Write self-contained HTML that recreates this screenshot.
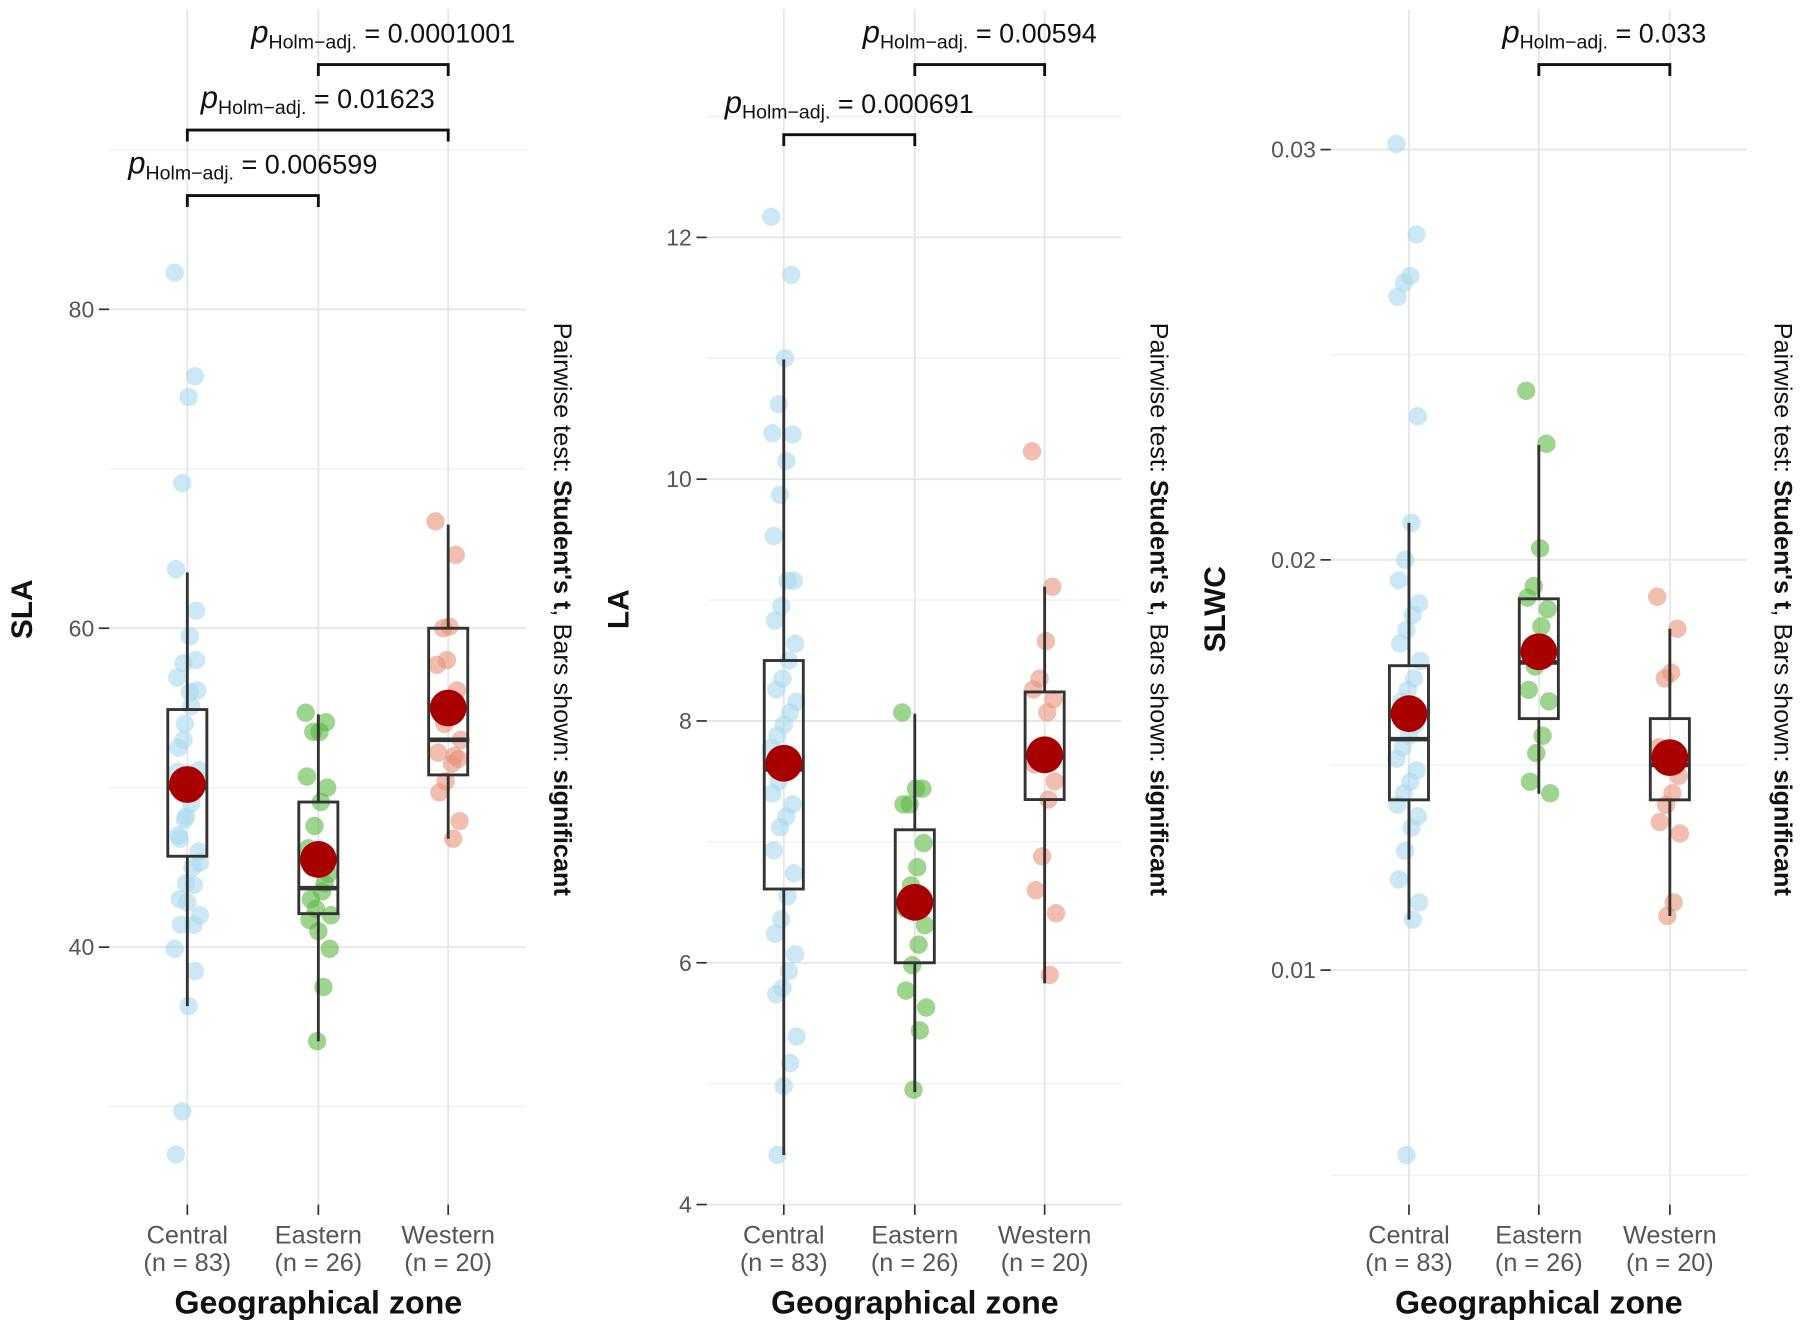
<!DOCTYPE html>
<html><head><meta charset="utf-8"><style>
html,body{margin:0;padding:0;background:#fff}
svg{display:block;font-family:"Liberation Sans",sans-serif}
</style></head><body>
<svg id="chart" width="1802" height="1330" viewBox="0 0 1568 1157" xmlns="http://www.w3.org/2000/svg"></svg>
<script>
const categories=["Central","Eastern","Western"];
const counts=[83,26,20];
const slaCentral=[82.3,75.8,74.5,69.1,63.7,61.1,59.5,57.8,56.9,56.1,55.1,54.0,52.5,51.1,49.7,48.2,46.8,45.3,43.9,42.8,41.4,39.9,38.5,36.3,29.7,27.0,58,56,53,51,50,49,48,47,46,45,44,43,42,41.4];
const slaEastern=[54.7,54.1,53.5,53.5,50.7,50,49.1,47.6,46.2,44.6,43.5,42.4,41.7,39.9,37.5,34.1,43,42,44,41,45];
const slaWestern=[66.7,64.6,60.1,60,57.7,56.1,54.7,54,52.2,51.8,51.5,50.4,49.7,47.9,46.8,58,55,53,52];
const slaBoxes=[[36.3,45.7,50.0,54.9,63.5],[34.1,42.1,43.7,49.1,54.6],[46.8,50.8,53.0,60.0,66.5]];
const slaMeans=[50.2,45.5,55.0];
const laCentral=[12.17,11.69,11.0,10.62,10.38,10.37,10.15,9.87,9.53,9.16,9.16,8.95,8.83,8.64,8.50,8.35,8.26,8.16,8.07,7.97,7.88,7.78,7.69,7.59,7.50,7.40,7.31,7.21,7.12,6.93,6.74,6.55,6.36,6.24,6.07,5.93,5.79,5.74,5.39,5.17,4.98,4.41];
const laEastern=[8.07,7.44,7.44,7.31,7.31,6.99,6.79,6.64,6.45,6.31,6.15,5.98,5.77,5.63,5.44,4.95];
const laWestern=[10.23,9.11,8.66,8.35,8.26,8.18,8.07,7.74,7.64,7.50,7.35,6.88,6.60,6.41,5.90];
const laBoxes=[[4.41,6.61,7.6,8.50,10.99],[4.93,6.0,6.5,7.10,8.06],[5.83,7.35,7.7,8.24,9.11]];
const laMeans=[7.65,6.5,7.72];
const slwcCentral=[0.03014,0.02793,0.02692,0.02675,0.02641,0.0235,0.0209,0.0200,0.0195,0.01894,0.01866,0.01829,0.01796,0.01754,0.01711,0.01683,0.01655,0.01627,0.01599,0.01571,0.01543,0.01515,0.01487,0.01459,0.01431,0.01403,0.01375,0.01347,0.01291,0.01221,0.01165,0.01123,0.00549];
const slwcEastern=[0.02412,0.02283,0.02028,0.01936,0.01908,0.0188,0.01838,0.0174,0.01683,0.01655,0.01571,0.01529,0.01459,0.01431];
const slwcWestern=[0.0191,0.01832,0.01725,0.01711,0.01543,0.01473,0.01431,0.01403,0.01361,0.01333,0.01165,0.01132];
const slwcBoxes=[[0.01123,0.01415,0.01563,0.01742,0.0209],[0.0143,0.01613,0.0175,0.01905,0.0228],[0.01132,0.01415,0.0150,0.01613,0.01832]];
const slwcMeans=[0.01625,0.01776,0.01518];
const slaTicks=[40,60,80], slaMinor=[30,50,70,90];
const laTicks=[4,6,8,10,12], laMinor=[5,7,9,11,13];
const slwcTicks=[0.01,0.02,0.03], slwcMinor=[0.005,0.015,0.025];
const slaTickLabels=["40","60","80"], laTickLabels=["4","6","8","10","12"], slwcTickLabels=["0.01","0.02","0.03"];
const slaP=[["0.006599",0,1,0],["0.01623",0,2,1],["0.0001001",1,2,2]];
const laP=[["0.000691",0,1,0],["0.00594",1,2,1]];
const slwcP=[["0.033",1,2,0]];

const NS="http://www.w3.org/2000/svg";
const svg=document.getElementById('chart');
function mk(tag,attrs,parent){const e=document.createElementNS(NS,tag);for(const k in attrs)e.setAttribute(k,attrs[k]);(parent||svg).appendChild(e);return e;}
const colors=["#a8d8ec","#5cb842","#e8927a"];

function panel(cfg){
  const g=mk('g',{});
  
  
  const y=v=>cfg.y0+(v-cfg.v0)*cfg.k;
  const x=i=>cfg.cx[i];
  cfg.minor.forEach(v=>{const l=mk('line',{x1:cfg.xl,x2:cfg.xr,y1:y(v),y2:y(v),stroke:'#f0f0f0','stroke-width':1.2},g);});
  cfg.ticks.forEach((v,i)=>{
    const l=mk('line',{x1:cfg.xl,x2:cfg.xr,y1:y(v),y2:y(v),stroke:'#e6e6e6','stroke-width':1.6},g);
    
    mk('line',{x1:cfg.xl-9,x2:cfg.xl,y1:y(v),y2:y(v),stroke:'#333','stroke-width':1.5},g);
    const t=mk('text',{x:cfg.xl-13,y:y(v)+7,'text-anchor':'end','font-size':20,fill:'#555'},g);
    t.textContent=cfg.tickLabels[i];
    
  });
  categories.forEach((c,i)=>{
    const l=mk('line',{x1:x(i),x2:x(i),y1:8,y2:1048,stroke:'#e6e6e6','stroke-width':1.6},g);
    
    mk('line',{x1:x(i),x2:x(i),y1:1048,y2:1057,stroke:'#333','stroke-width':1.5},g);
    const t=mk('text',{x:x(i),y:1082,'text-anchor':'middle','font-size':22,fill:'#555'},g);
    t.textContent=c;
    const t2=mk('text',{x:x(i),y:1106,'text-anchor':'middle','font-size':22,fill:'#555'},g);
    t2.textContent='(n = '+counts[i]+')';
  });
  cfg.series.forEach((arr,i)=>{
    arr.forEach((v,j)=>{
      const off=(((j*37)%21)-10)*1.1;
      const c=mk('circle',{cx:x(i)+off,cy:y(v),r:8,fill:colors[i],'fill-opacity':0.6},g);
      
    });
  });
  cfg.boxes.forEach((b,i)=>{
    const w=17;
    mk('line',{x1:x(i),x2:x(i),y1:y(b[0]),y2:y(b[1]),stroke:'#333','stroke-width':2.5},g);
    mk('line',{x1:x(i),x2:x(i),y1:y(b[3]),y2:y(b[4]),stroke:'#333','stroke-width':2.5},g);
    const r=mk('rect',{x:x(i)-w,y:y(b[3]),width:2*w,height:y(b[1])-y(b[3]),fill:'none',stroke:'#333','stroke-width':2.5},g);
    
    mk('line',{x1:x(i)-w,x2:x(i)+w,y1:y(b[2]),y2:y(b[2]),stroke:'#333','stroke-width':4},g);
  });
  cfg.means.forEach((m,i)=>{
    const c=mk('circle',{cx:x(i),cy:y(m),r:16,fill:'#a80000'},g);
    
  });
  cfg.p.forEach(p=>{
    const yy=56+57*p[3]+(cfg.pOff||0)*p[3];
    const a=x(p[1]),b=x(p[2]);
    const br=mk('path',{d:`M${a},${yy+10}V${yy}H${b}V${yy+10}`,fill:'none',stroke:'#111','stroke-width':2.5},g);
    
    const t=mk('text',{x:(a+b)/2,y:yy-19,'text-anchor':'middle','font-size':23.5,fill:'#111'},g);
    t.innerHTML='<tspan font-style="italic" font-size="27">p</tspan><tspan font-size="17" dy="5">Holm−adj.</tspan><tspan dy="-5"> = '+p[0]+'</tspan>';
    
  });
  const yt=mk('text',{transform:`translate(${cfg.ytx},530) rotate(-90)`,'text-anchor':'middle','font-size':26,'font-weight':'bold',fill:'#111'},g);
  yt.textContent=cfg.name;
  const xt=mk('text',{x:x(1),y:1143,'text-anchor':'middle','font-size':28,'font-weight':'bold',fill:'#111'},g);
  xt.textContent='Geographical zone';
  const st=mk('text',{transform:`translate(${cfg.stx},530) rotate(90)`,'text-anchor':'middle','font-size':22,fill:'#111'},g);
  st.innerHTML='Pairwise test: <tspan font-weight="bold">Student\'s t</tspan>, Bars shown: <tspan font-weight="bold">significant</tspan>';
  
}
panel({name:'SLA',y0:824,v0:40,k:-13.875,xl:95,xr:458,cx:[163,277,390],ticks:slaTicks,minor:slaMinor,tickLabels:slaTickLabels,series:[slaCentral,slaEastern,slaWestern],boxes:slaBoxes,means:slaMeans,p:slaP.map(p=>[p[0],p[1],p[2],2-p[3]]),ytx:28,stx:482});
panel({name:'LA',y0:1048,v0:4,k:-105.2,xl:615,xr:976,cx:[682,796,909],ticks:laTicks,minor:laMinor,tickLabels:laTickLabels,series:[laCentral,laEastern,laWestern],boxes:laBoxes,means:laMeans,p:laP.map(p=>[p[0],p[1],p[2],1-p[3]]),pOff:4,ytx:547,stx:1001});
panel({name:'SLWC',y0:844,v0:0.01,k:-35700,xl:1158,xr:1520,cx:[1226,1339,1453],ticks:slwcTicks,minor:slwcMinor,tickLabels:slwcTickLabels,series:[slwcCentral,slwcEastern,slwcWestern],boxes:slwcBoxes,means:slwcMeans,p:slwcP,ytx:1066,stx:1544});
</script>
</body></html>
